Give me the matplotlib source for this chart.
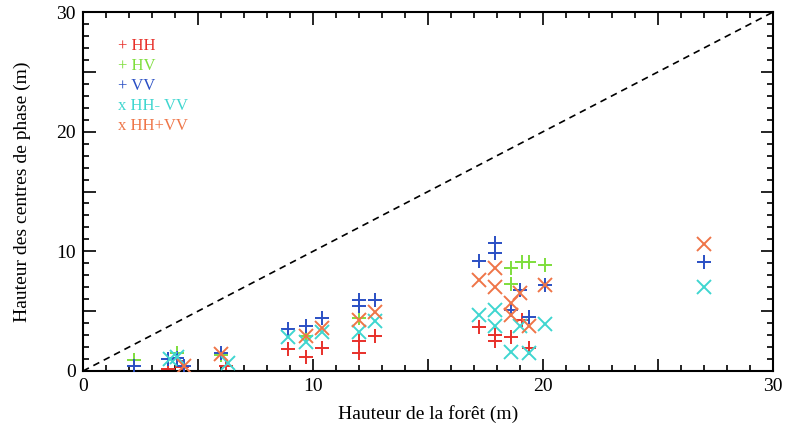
import matplotlib
matplotlib.use("Agg")
import matplotlib.pyplot as plt
from matplotlib.ticker import MultipleLocator, FuncFormatter

# Data (forest height, phase-centre height), in metres
hh_x = [3.7, 4.3, 6.2, 8.9, 9.7, 10.4, 12.0, 12.0, 12.7, 17.2, 17.9, 17.9, 18.6, 19.1, 19.4]
hh_y = [0.15, 0.3, 0.4, 1.8, 1.2, 1.9, 1.5, 2.5, 2.9, 3.7, 3.0, 2.5, 2.8, 4.3, 1.9]

hv_x = [2.2, 4.1, 6.0, 9.7, 12.0, 18.6, 18.6, 19.1, 19.4, 20.1]
hv_y = [0.9, 1.5, 1.3, 2.9, 4.4, 8.6, 7.3, 9.1, 9.1, 8.9]

vv_x = [2.2, 3.7, 4.1, 4.4, 6.0, 8.9, 9.7, 10.4, 12.0, 12.0, 12.7, 17.2, 17.9, 17.9, 18.6, 19.0, 19.4, 20.1, 27.0]
vv_y = [0.4, 1.0, 1.1, 0.4, 1.5, 3.5, 3.8, 4.4, 5.9, 5.4, 5.9, 9.2, 10.7, 9.9, 5.1, 6.8, 4.5, 7.2, 9.1]

hhmvv_x = [3.8, 4.1, 6.3, 8.9, 9.7, 10.4, 12.0, 12.7, 17.2, 17.9, 17.9, 18.6, 19.0, 19.4, 20.1, 27.0]
hhmvv_y = [1.0, 1.2, 0.7, 2.8, 2.4, 3.3, 3.3, 4.2, 4.7, 5.1, 3.8, 1.6, 3.8, 1.5, 3.9, 7.0]

hhpvv_x = [4.4, 6.0, 9.7, 10.4, 12.0, 12.7, 17.2, 17.9, 17.9, 18.6, 18.6, 19.0, 19.4, 20.1, 27.0]
hhpvv_y = [0.4, 1.4, 2.9, 3.6, 4.3, 4.9, 7.6, 8.6, 7.0, 5.7, 4.7, 6.5, 3.8, 7.2, 10.6]

series = [
    ("HH", hh_x, hh_y, "+", "#e8302a"),
    ("HV", hv_x, hv_y, "+", "#7ede3c"),
    ("VV", vv_x, vv_y, "+", "#2a4fc4"),
    ("HH- VV", hhmvv_x, hhmvv_y, "x", "#3fd6d0"),
    ("HH+VV", hhpvv_x, hhpvv_y, "x", "#ef7548"),
]
legend_symbols = {"+": "+", "x": "x"}

plt.rcParams["font.family"] = ["Liberation Serif", "DejaVu Serif"]

fig = plt.figure(figsize=(7.86, 4.33), dpi=100)
ax = fig.add_axes([0.1056, 0.1432, 0.878, 0.829])

ax.plot([0, 30], [0, 30], linestyle=(0, (4, 3)), color="black", linewidth=1.2, zorder=1)

order = [4, 3, 1, 0, 2]
for i in order:
    name, xs, ys, m, c = series[i]
    ax.plot(xs, ys, linestyle="none", marker=m, markersize=9.5, markeredgewidth=1.4,
            color=c, zorder=2 + i)

for k, (name, xs, ys, m, c) in enumerate(series):
    ax.text(0.051, 0.905 - k * 0.0557, legend_symbols[m] + " " + name, transform=ax.transAxes,
            color=c, fontsize=12, va="center", ha="left")

ax.set_xlim(0, 30)
ax.set_ylim(0, 30)
for axis in (ax.xaxis, ax.yaxis):
    axis.set_major_locator(MultipleLocator(5))
    axis.set_minor_locator(MultipleLocator(1))
    axis.set_major_formatter(FuncFormatter(lambda v, p: "%d" % v if abs(v % 10) < 1e-6 else ""))

ax.tick_params(which="both", direction="in", top=True, right=True, labelsize=14, width=1.2)
ax.tick_params(which="major", length=9, pad=5)
ax.tick_params(which="minor", length=4)
for s in ax.spines.values():
    s.set_linewidth(1.5)

ax.set_xlabel("Hauteur de la forêt (m)", fontsize=14, labelpad=7)
ax.set_ylabel("Hauteur des centres de phase (m)", fontsize=14, labelpad=18)

fig.savefig("out.png", dpi=100)
